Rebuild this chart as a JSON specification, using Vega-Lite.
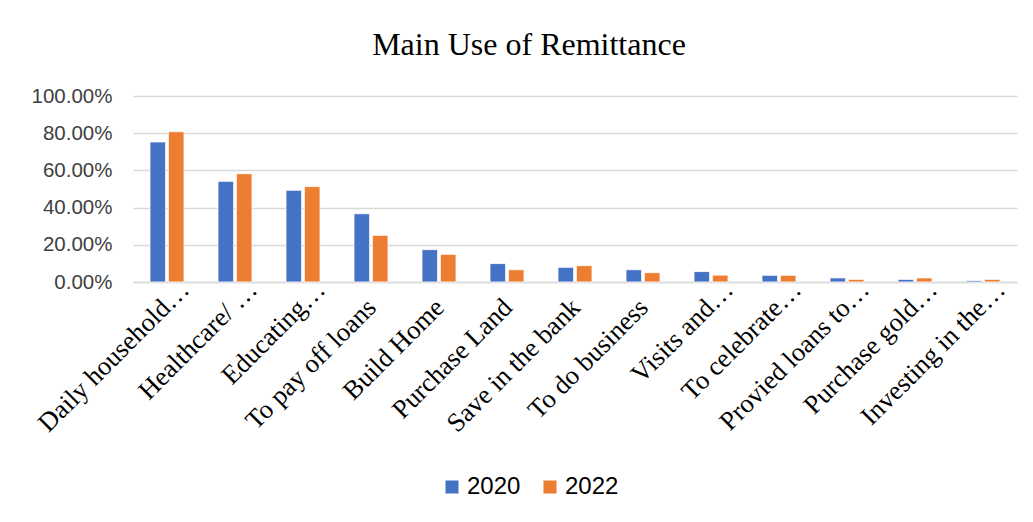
{
  "$schema": "https://vega.github.io/schema/vega-lite/v6.json",
  "autosize": {"type": "none"},
  "width": 884,
  "height": 186,
  "padding": {"left": 133, "top": 96, "right": 16, "bottom": 240},
  "background": "white",
  "title": {
    "text": "Main Use of Remittance",
    "font": "Liberation Serif",
    "fontSize": 32,
    "fontWeight": "normal",
    "color": "#000000",
    "anchor": "middle",
    "dx": -46,
    "offset": 24
  },
  "data": {
    "values": [
      {"use": "Daily household…", "year": "2020", "value": 0.753},
      {"use": "Daily household…", "year": "2022", "value": 0.808},
      {"use": "Healthcare/ …", "year": "2020", "value": 0.541},
      {"use": "Healthcare/ …", "year": "2022", "value": 0.582},
      {"use": "Educating…", "year": "2020", "value": 0.493},
      {"use": "Educating…", "year": "2022", "value": 0.513},
      {"use": "To pay off loans", "year": "2020", "value": 0.367},
      {"use": "To pay off loans", "year": "2022", "value": 0.251},
      {"use": "Build Home", "year": "2020", "value": 0.174},
      {"use": "Build Home", "year": "2022", "value": 0.149},
      {"use": "Purchase Land", "year": "2020", "value": 0.099},
      {"use": "Purchase Land", "year": "2022", "value": 0.066},
      {"use": "Save in the bank", "year": "2020", "value": 0.079},
      {"use": "Save in the bank", "year": "2022", "value": 0.088},
      {"use": "To do business", "year": "2020", "value": 0.066},
      {"use": "To do business", "year": "2022", "value": 0.05},
      {"use": "Visits and…", "year": "2020", "value": 0.056},
      {"use": "Visits and…", "year": "2022", "value": 0.037},
      {"use": "To celebrate…", "year": "2020", "value": 0.036},
      {"use": "To celebrate…", "year": "2022", "value": 0.036},
      {"use": "Provied loans to…", "year": "2020", "value": 0.022},
      {"use": "Provied loans to…", "year": "2022", "value": 0.014},
      {"use": "Purchase gold…", "year": "2020", "value": 0.014},
      {"use": "Purchase gold…", "year": "2022", "value": 0.022},
      {"use": "Investing in the…", "year": "2020", "value": 0.007},
      {"use": "Investing in the…", "year": "2022", "value": 0.014}
    ]
  },
  "mark": {"type": "bar", "stroke": "white", "strokeWidth": 0.8},
  "encoding": {
    "x": {
      "field": "use",
      "type": "nominal",
      "sort": null,
      "title": null,
      "scale": {"paddingInner": 0.5, "paddingOuter": 0.25},
      "axis": {
        "labelAngle": -45,
        "labelAlign": "right",
        "labelBaseline": "middle",
        "labelFont": "Liberation Serif",
        "labelFontSize": 26.5,
        "labelColor": "#000000",
        "labelPadding": {"condition": {"test": "indexof(datum.value, '…') >= 0", "value": 3}, "value": 21},
        "labelOffset": {"condition": {"test": "indexof(datum.value, '…') >= 0", "value": 18}, "value": 1},
        "labelLimit": 400,
        "ticks": false,
        "domain": true,
        "domainColor": "#d9d9d9",
        "domainWidth": 1.5,
        "grid": false
      }
    },
    "xOffset": {
      "field": "year",
      "type": "nominal",
      "scale": {"paddingInner": 0.15}
    },
    "y": {
      "field": "value",
      "type": "quantitative",
      "title": null,
      "scale": {"domain": [0, 1]},
      "axis": {
        "values": [0, 0.2, 0.4, 0.6, 0.8, 1],
        "format": ".2%",
        "labelFont": "Liberation Sans",
        "labelFontSize": 20.5,
        "labelColor": "#404040",
        "labelPadding": 21,
        "ticks": false,
        "domain": false,
        "gridColor": "#d9d9d9",
        "gridWidth": 1.5
      }
    },
    "color": {
      "field": "year",
      "type": "nominal",
      "scale": {"domain": ["2020", "2022"], "range": ["#4472C4", "#ED7D31"]},
      "legend": {
        "title": null,
        "orient": "none",
        "direction": "horizontal",
        "legendX": 307,
        "legendY": 379,
        "symbolType": "square",
        "symbolSize": 170,
        "symbolStrokeWidth": 0,
        "labelFont": "Liberation Sans",
        "labelFontSize": 24,
        "labelColor": "#000000",
        "columnPadding": 17,
        "labelOffset": 3
      }
    }
  },
  "config": {
    "view": {"stroke": null}
  }
}
